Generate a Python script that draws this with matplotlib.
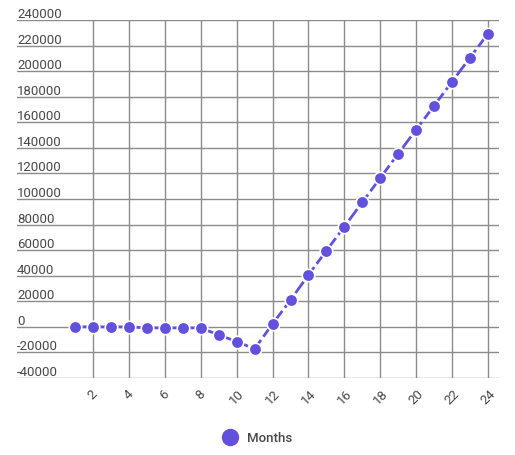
import matplotlib
matplotlib.use("Agg")
import matplotlib.pyplot as plt
import matplotlib.transforms as mtransforms
from matplotlib.lines import Line2D

plt.rcParams["font.family"] = ["Roboto", "DejaVu Sans"]

months = list(range(1, 25))
values = [0, 0, 0, 0, -800, -800, -800, -800, -6300, -11500, -17200, 2300,
          21000, 40600, 59600, 78400, 97500, 116500, 135500, 154300, 173000,
          191800, 210600, 229400]
y_ticks = list(range(-40000, 240001, 20000))
x_ticks = list(range(2, 25, 2))

line_color = "#6151dc"
grid_color = "#8c8c8c"
text_color = "#484848"

fig = plt.figure(figsize=(5.15, 4.56), dpi=100)
ax = fig.add_axes([17 / 515, 1 - 379 / 456, (499 - 17) / 515, (379 - 21) / 456])

ax.plot(months, values, color=line_color, lw=2, ls=(0, (5, 1.5)),
        marker="o", ms=9, mfc=line_color, mec="white", mew=1.2,
        label="Months", zorder=3)

ax.set_xlim(-2.23, 24.61)
ax.set_ylim(-40000, 240000)
ax.set_xticks(x_ticks)
ax.set_yticks(y_ticks)
ax.grid(True, color=grid_color, lw=1)
for s in ax.spines.values():
    s.set_visible(False)
ax.tick_params(length=0)
ax.set_yticklabels([])
ax.set_xticklabels([str(t) for t in x_ticks], rotation=45, ha="center",
                   va="top", color=text_color, fontsize=9.5)
ax.tick_params(axis="x", pad=6)

# y labels sit just above their grid lines
trans = mtransforms.blended_transform_factory(ax.transAxes, ax.transData)
for t in y_ticks:
    ax.text(0, t, str(t), transform=trans, ha="left", va="bottom",
            color=text_color, fontsize=9.5)

handle = Line2D([], [], marker="o", ls="none", color=line_color, ms=11.5)
fig.legend(handles=[handle], labels=["Months"], loc="center",
           bbox_to_anchor=(0.494, 1 - 439 / 456), frameon=False,
           handletextpad=0.3, labelcolor=text_color,
           prop={"size": 9.5, "weight": "medium"})

fig.savefig("out.png", dpi=100)
